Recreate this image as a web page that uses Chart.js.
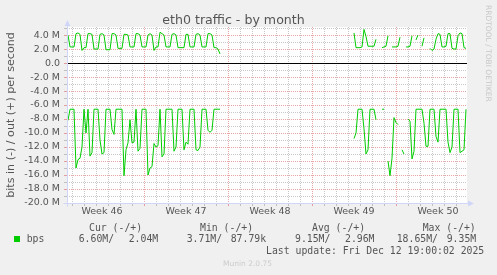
<!DOCTYPE html>
<html>
<head>
<meta charset="utf-8">
<script src="https://cdn.jsdelivr.net/npm/chart.js@4.4.1/dist/chart.umd.min.js"></script>
<style>
html, body { margin: 0; padding: 0; background: #f0f0f0; }
#wrap { position: relative; width: 497px; height: 275px; overflow: hidden; }
#chart { position: absolute; left: 0; top: 0; }
.leg { position: absolute; font-family: "DejaVu Sans Mono", monospace; font-size: 9.8px;
       line-height: 12px; color: #555; white-space: pre; }
.box { position: absolute; left: 14px; top: 236px; width: 6px; height: 6px; background: #00cc00; }
.side { position: absolute; left: 484px; top: 5px; writing-mode: vertical-rl;
        font-family: "DejaVu Sans", sans-serif; font-size: 7.5px; color: #c8c8c8; white-space: nowrap; }
.munin { position: absolute; left: 223px; top: 259px; font-family: "DejaVu Sans", sans-serif;
         font-size: 7.5px; line-height: 10px; color: #cccccc; }
</style>
</head>
<body>
<div id="wrap">
  <canvas id="chart" width="497" height="275"></canvas>
  <div class="box"></div>
  <div class="side">RRDTOOL / TOBI OETIKER</div>
  <div class="munin">Munin 2.0.75</div>
</div>
<script>
// time is in days, 0 = first midnight on the grid; samples every 4 hours
const stepDays = 1 / 6;
const leftStart = -1 / 3;
const rightStart = 23.5;

// out (+), Mbit/s
const outLeft = [
  4.0, 2.3,
  2.3, 2.3, 4.2, 4.3, 4.1, 1.8,
  2.2, 2.2, 4.2, 4.2, 4.1, 2.0,
  2.0, 2.0, 4.1, 4.2, 4.0, 1.9,
  1.9, 1.9, 4.2, 4.2, 4.0, 2.1,
  2.1, 2.1, 4.1, 4.1, 4.0, 2.3,
  2.3, 2.3, 4.2, 4.2, 4.0, 2.3,
  2.3, 2.3, 4.0, 4.2, 4.0, 1.8,
  2.3, 2.3, 4.4, 4.2, 4.0, 2.3,
  2.3, 2.3, 4.1, 4.2, 4.0, 2.2,
  2.2, 2.2, 2.2, 4.1, 4.1, 2.3,
  2.3, 2.3, 4.1, 4.2, 4.0, 2.3,
  2.3, 2.3, 4.2, 4.2, 4.0, 2.2,
  2.2, 2.0, 1.3
];
const outRight = [
  4.3, 2.2, 2.2, 2.2, 2.3, 4.8, 3.8, 2.4, 2.4, 2.4, 2.4, 3.4,
  null, null, 2.2, 2.3, 2.4, 3.9,
  null, 2.3, 2.3, 2.3, 2.4, 3.7,
  null, null, 2.3, 2.3, 2.4, 3.9,
  null, 3.3, 4.0, null, 2.4, 3.6,
  null, null, 2.1, 1.8, 2.0, 3.4,
  4.2, 4.1, 2.3, 2.3, 2.4, 4.2, 4.2, 2.1, 2.0, 2.0, 3.9, 4.3, 4.2, 2.2, 2.1
];

// in (-), Mbit/s, drawn below zero
const inLeft = [
  8.2, 6.6,
  6.6, 6.6, 15.0, 13.8, 13.6, 12.0,
  6.6, 10.0, 6.6, 13.3, 12.8, 6.6,
  6.6, 6.6, 11.0, 13.0, 12.8, 6.6,
  6.6, 6.6, 9.5, 10.2, 6.6, 6.6,
  6.6, 6.6, 16.1, 12.4, 11.4, 8.1,
  11.4, 11.3, 6.6, 12.6, 12.2, 6.6,
  6.6, 6.6, 16.0, 15.0, 14.8, 11.5,
  12.0, 11.8, 6.6, 13.4, 13.0, 6.6,
  6.6, 6.6, 6.6, 12.6, 12.0, 6.6,
  6.6, 6.6, 12.4, 11.3, 11.6, 6.6,
  6.6, 6.6, 12.4, 12.5, 12.0, 6.6,
  6.6, 6.6, 9.6, 9.9, 9.6, 6.6,
  6.6, 6.6, 6.6
];
const inRight = [
  10.8, 10.0, 6.6, 6.6, 6.6, 9.4, 13.0, 12.4, 6.6, 6.6, 6.6, 8.1,
  null, null, 6.6, 6.6, null, 14.0,
  16.1, 13.6, 7.8, 8.5, 8.8, null,
  12.4, 13.0, null, 8.0, 8.3, 13.7,
  12.6, 6.6, 6.6, 6.6, 6.6, 8.6,
  11.9, 11.9, 6.6, 6.6, 6.6, 10.5,
  11.3, 6.6, 6.6, 6.6, 6.6, 11.3, 12.8, 12.0, 6.6, 6.6, 6.6, 12.8, 12.6, 12.4, 6.6
];

const weekLabels = ['Week 46', 'Week 47', 'Week 48', 'Week 49', 'Week 50'];
const weekStarts = [-1, 6, 13, 20, 27];
const yTickValues = [-20, -19, -18, -17, -16, -15, -14, -13, -12, -11, -10, -9, -8,
                     -7, -6, -5, -4, -3, -2, -1, 0, 1, 2, 3, 4, 5];

const statHeads = ['Cur (-/+)', 'Min (-/+)', 'Avg (-/+)', 'Max (-/+)'];
const statIn = ['6.60M', '3.71M', '9.15M', '18.65M'];
const statOut = ['2.04M', '87.79k', '2.96M', '9.35M'];
const lastUpdate = 'Last update: Fri Dec 12 19:00:02 2025';

function toPoints(start, values, sign) {
  return values.map((v, i) => ({ x: start + i * stepDays, y: v === null ? null : sign * v * 1e6 }));
}
const outData = toPoints(leftStart, outLeft, 1).concat([{ x: 18, y: null }], toPoints(rightStart, outRight, 1));
const inData = toPoints(leftStart, inLeft, -1).concat([{ x: 18, y: null }], toPoints(rightStart, inRight, -1));

// legend rows under the graph
const wrap = document.getElementById('wrap');
function addText(txt, x, yCenter) {
  const d = document.createElement('div');
  d.className = 'leg';
  d.textContent = txt;
  d.style.left = x + 'px';
  d.style.top = (yCenter - 6) + 'px';
  wrap.appendChild(d);
}
const headX = [89, 200, 312, 422.7];
const inX = [78.7, 186.7, 295, 396.7];
const outX = [128.7, 230.7, 345, 446.7];
statHeads.forEach((h, i) => addText(h, headX[i], 227.7));
addText('bps', 26.7, 239.3);
statIn.forEach((v, i) => addText(v + '/', inX[i], 239.3));
statOut.forEach((v, i) => addText(v, outX[i], 239.3));
addText(lastUpdate, 266, 251);

const MAJOR = 'rgba(222,90,90,0.55)';
const MINOR = 'rgba(130,130,130,0.45)';
const AXIS = '#cfd6f8';

const rrdFrame = {
  id: 'rrdFrame',
  beforeDraw(chart) {
    const { ctx, chartArea: a } = chart;
    ctx.save();
    ctx.fillStyle = '#ffffff';
    ctx.fillRect(a.left, a.top, a.right - a.left, a.bottom - a.top);
    ctx.restore();
  },
  beforeDatasetsDraw(chart) {
    const { ctx, chartArea: a } = chart;
    const y = Math.round(chart.scales.y.getPixelForValue(0)) + 0.5;
    ctx.save();
    ctx.strokeStyle = '#000';
    ctx.lineWidth = 1;
    ctx.beginPath();
    ctx.moveTo(a.left, y);
    ctx.lineTo(a.right, y);
    ctx.stroke();
    ctx.restore();
  },
  afterDraw(chart) {
    const { ctx, chartArea: a } = chart;
    const x0 = Math.round(a.left) + 0.5;
    const y0 = Math.round(a.bottom) + 0.5;
    ctx.save();
    ctx.strokeStyle = AXIS;
    ctx.fillStyle = AXIS;
    ctx.lineWidth = 1;
    ctx.beginPath();
    ctx.moveTo(x0, y0 + 3);
    ctx.lineTo(x0, a.top - 3);
    ctx.moveTo(x0 - 4, y0);
    ctx.lineTo(a.right + 2, y0);
    ctx.stroke();
    ctx.beginPath();
    ctx.moveTo(x0, a.top - 7);
    ctx.lineTo(x0 - 3, a.top - 1);
    ctx.lineTo(x0 + 3, a.top - 1);
    ctx.closePath();
    ctx.fill();
    ctx.beginPath();
    ctx.moveTo(a.right + 7, y0);
    ctx.lineTo(a.right + 1, y0 - 3);
    ctx.lineTo(a.right + 1, y0 + 3);
    ctx.closePath();
    ctx.fill();
    ctx.restore();
  }
};

Chart.defaults.font.family = '"DejaVu Sans", sans-serif';
Chart.defaults.color = '#555';

new Chart(document.getElementById('chart'), {
  type: 'line',
  data: {
    datasets: [
      { label: 'bps out', data: outData, borderColor: '#00cc00', borderWidth: 1,
        pointRadius: 0, tension: 0, spanGaps: false },
      { label: 'bps in', data: inData, borderColor: '#00cc00', borderWidth: 1,
        pointRadius: 0, tension: 0, spanGaps: false }
    ]
  },
  options: {
    responsive: false,
    animation: false,
    devicePixelRatio: 1,
    layout: { padding: { left: 0, right: 30, top: 0, bottom: 0 } },
    plugins: {
      legend: { display: false },
      tooltip: { enabled: false },
      title: {
        display: true,
        text: 'eth0 traffic - by month',
        color: '#555',
        font: { size: 12.6, weight: 'normal', lineHeight: 1 },
        padding: { top: 14, bottom: 0.4 }
      }
    },
    scales: {
      x: {
        type: 'linear',
        min: -5 / 12,
        max: 32 + 11 / 12,
        afterFit(scale) { scale.height = 72; },
        afterBuildTicks(scale) {
          const t = [];
          for (let d = 0; d <= 32; d++) t.push({ value: d });
          weekStarts.forEach(w => t.push({ value: w + 3.5 }));
          t.sort((p, q) => p.value - q.value);
          scale.ticks = t;
        },
        border: { display: false, dash: [1, 1] },
        grid: {
          color(ctx) {
            const v = ctx.tick ? ctx.tick.value : 0;
            if (!Number.isInteger(v)) return 'rgba(0,0,0,0)';
            return weekStarts.includes(v) ? MAJOR : MINOR;
          },
          lineWidth: 1,
          tickLength: 3
        },
        ticks: {
          autoSkip: false,
          maxRotation: 0,
          minRotation: 0,
          padding: 0,
          color: '#555',
          font: { size: 9.5 },
          callback(v) {
            const i = weekStarts.findIndex(w => w + 3.5 === v);
            return i >= 0 ? weekLabels[i] : '';
          }
        }
      },
      y: {
        min: -20e6,
        max: 5.15e6,
        afterFit(scale) { scale.width = 67; },
        afterBuildTicks(scale) {
          scale.ticks = yTickValues.map(v => ({ value: v * 1e6 }));
        },
        border: { display: false, dash: [1, 1] },
        grid: {
          color(ctx) {
            const v = ctx.tick ? Math.round(ctx.tick.value / 1e6) : 0;
            return v % 2 === 0 ? MAJOR : MINOR;
          },
          lineWidth: 1,
          tickLength: 3
        },
        title: {
          display: true,
          text: 'bits in (-) / out (+) per second',
          color: '#555',
          font: { size: 11.1 },
          padding: { top: 4, bottom: 0 }
        },
        ticks: {
          autoSkip: false,
          padding: 4,
          color: '#555',
          font: { size: 9.5 },
          callback(v) {
            const m = Math.round(v / 1e6);
            if (m % 2 !== 0) return '';
            return m === 0 ? '0.0' : m.toFixed(1) + ' M';
          }
        }
      }
    }
  },
  plugins: [rrdFrame]
});
</script>
</body>
</html>
